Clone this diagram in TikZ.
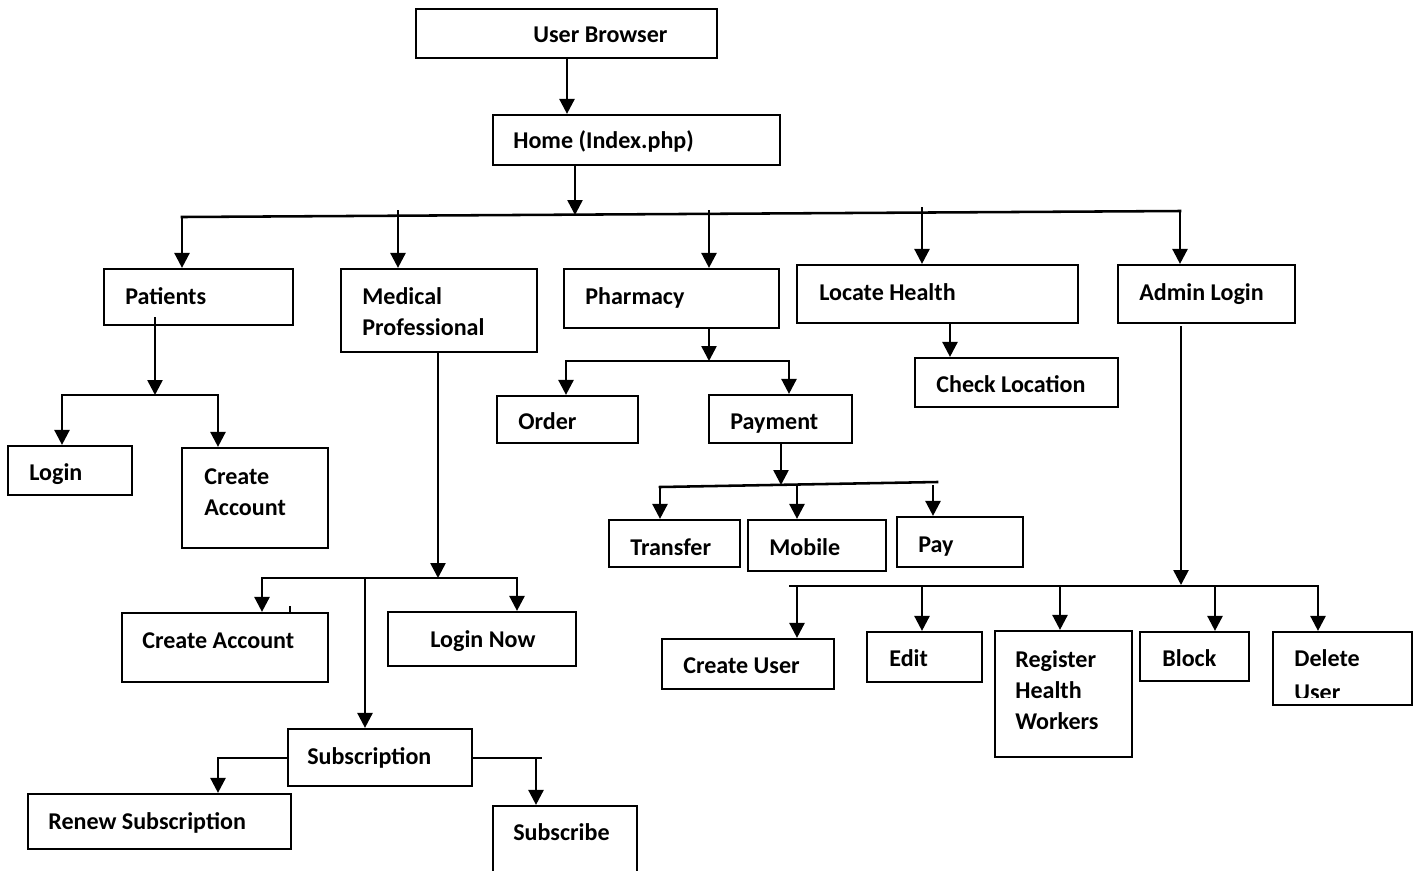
\documentclass[tikz,border=0pt]{standalone}
\usepackage{fontspec}
\setmainfont{Carlito}
\usetikzlibrary{arrows.meta,fit}
\begin{document}
\begin{tikzpicture}[x=0.02cm,y=-0.02cm,
  box/.style={draw, line width=1.25pt, inner sep=0pt},
  txt/.style={inner sep=0pt, anchor=base west, align=left,
              font=\fontsize{13.7}{17.6}\selectfont\bfseries},
  wire/.style={line width=1.45pt, line cap=rect},
  arr/.style={wire, -{Triangle[length=8.5pt,width=8.5pt]}}]
\useasboundingbox (0,0) rectangle (1416,870);
\clip (0,0) rectangle (1416,870);

% ---------- boxes ----------
\node[box, fit={(416,9) (717,58)}]      (ub)    {};
\node[box, fit={(493,115) (780,165)}]   (home)  {};
\node[box, fit={(104,269) (293,325)}]   (pat)   {};
\node[box, fit={(341,269) (537,352)}]   (med)   {};
\node[box, fit={(564,269) (779,328)}]   (pharm) {};
\node[box, fit={(797,265) (1078,323)}]  (loc)   {};
\node[box, fit={(1118,265) (1295,323)}] (adm)   {};
\node[box, fit={(8,446) (132,495)}]     (login) {};
\node[box, fit={(182,448) (328,548)}]   (caA)   {};
\node[box, fit={(122,613) (328,682)}]   (caB)   {};
\node[box, fit={(388,612) (576,666)}]   (lnow)  {};
\node[box, fit={(288,729) (472,786)}]   (sub)   {};
\node[box, fit={(28,794) (291,849)}]    (renew) {};
\node[box, fit={(493,806) (637,890)}]   (subs)  {};
\node[box, fit={(497,396) (638,443)}]   (order) {};
\node[box, fit={(709,395) (852,443)}]   (pay)   {};
\node[box, fit={(609,520) (740,567)}]   (trans) {};
\node[box, fit={(748,520) (886,571)}]   (mob)   {};
\node[box, fit={(897,517) (1023,567)}]  (payb)  {};
\node[box, fit={(915,358) (1118,407)}]  (chk)   {};
\node[box, fit={(662,639) (834,689)}]   (cuser) {};
\node[box, fit={(867,632) (982,682)}]   (edit)  {};
\node[box, fit={(995,631) (1132,757)}]  (reg)   {};
\node[box, fit={(1140,632) (1249,681)}] (block) {};
\node[box, fit={(1273,632) (1412,705)}] (del)   {};

% ---------- labels (multi-line labels sit on their last baseline) ----------
\node[txt] (t-ub)    at (533,42)  {User Browser};
\node[txt] (t-home)  at (513,148) {Home (Index.php)};
\node[txt] (t-pat)   at (125,304) {Patients};
\node[txt] (t-med)   at (362,335) {Medical\\Professional};
\node[txt] (t-pharm) at (585,304) {Pharmacy};
\node[txt] (t-loc)   at (819,300) {Locate Health};
\node[txt] (t-adm)   at (1139,300) {Admin Login};
\node[txt] (t-login) at (29,480)  {Login};
\node[txt] (t-caA)   at (204,515) {Create\\Account};
\node[txt] (t-caB)   at (142,648) {Create Account};
\node[txt] (t-lnow)  at (430,647) {Login Now};
\node[txt] (t-sub)   at (307,764) {Subscription};
\node[txt] (t-renew) at (48,829)  {Renew Subscription};
\node[txt] (t-subs)  at (513,840) {Subscribe};
\node[txt] (t-order) at (518,429) {Order};
\node[txt] (t-pay)   at (730,429) {Payment};
\node[txt] (t-trans) at (630,555) {Transfer};
\node[txt] (t-mob)   at (769,555) {Mobile};
\node[txt] (t-payb)  at (918,552) {Pay};
\node[txt] (t-chk)   at (936,392) {Check Location};
\node[txt] (t-cuser) at (683,673) {Create User};
\node[txt] (t-edit)  at (889,666) {Edit};
\node[txt] (t-reg)   at (1015,729) {Register\\Health\\Workers};
\node[txt] (t-block) at (1162,666) {Block};
\node[txt] (t-del)   at (1294,666) {Delete};
\begin{scope}
  \clip (1274,633) rectangle (1411,697);
  \node[txt] (t-delu) at (1294,700) {User};
\end{scope}

% ---------- connectors ----------
% browser -> home
\coordinate (ubo) at (567,58);
\draw[arr] (ubo) -- (home.north -| ubo);
% home -> main bus
\coordinate (hmo) at (575,165);
\coordinate (hmj) at (575,215);
\draw[arr] (hmo) -- (hmj);
\coordinate (busL) at (182,217);
\coordinate (busR) at (1180,211);
\draw[wire] (busL) -- (busR);
\coordinate (jm) at (398,211);
\coordinate (jp) at (709,211);
\coordinate (jl) at (922,208);
\draw[arr] (busL) -- (pat.north -| busL);
\draw[arr] (jm) -- (med.north -| jm);
\draw[arr] (jp) -- (pharm.north -| jp);
\draw[arr] (jl) -- (loc.north -| jl);
\draw[arr] (busR) -- (adm.north -| busR);

% patients branch
\coordinate (po) at (155,318);
\coordinate (pj) at (155,395);
\draw[arr] (po) -- (pj);
\coordinate (pl) at (62,395);
\coordinate (pr) at (218,395);
\draw[wire] (pl) -- (pr);
\draw[arr] (pl) -- (login.north -| pl);
\draw[arr] (pr) -- (caA.north -| pr);

% medical professional branch
\coordinate (mo) at (438,352);
\coordinate (mj) at (438,578);
\draw[arr] (mo) -- (mj);
\coordinate (ml) at (262,578);
\coordinate (mr) at (517,578);
\coordinate (ms) at (365,578);
\draw[wire] (ml) -- (mr);
\draw[arr] (ml) -- (caB.north -| ml);
\draw[arr] (mr) -- (lnow.north -| mr);
\draw[arr] (ms) -- (sub.north -| ms);
\coordinate (tick) at (290,606);
\draw[line width=0.8pt] (tick) -- (caB.north -| tick);

% subscription branch
\coordinate (sl) at (218,758);
\draw[wire] (sub.west |- sl) -- (sl);
\draw[arr] (sl) -- (renew.north -| sl);
\coordinate (sr) at (541,758);
\coordinate (srd) at (536,758);
\draw[wire] (sub.east |- sr) -- (sr);
\draw[arr] (srd) -- (subs.north -| srd);

% pharmacy branch
\coordinate (pho) at (709,328);
\coordinate (phj) at (709,361);
\draw[arr] (pho) -- (phj);
\coordinate (phl) at (566,361);
\coordinate (phr) at (789,361);
\draw[wire] (phl) -- (phr);
\draw[arr] (phl) -- (order.north -| phl);
\draw[arr] (phr) -- (pay.north -| phr);

% payment branch
\coordinate (pyo) at (781,443);
\coordinate (pyj) at (781,485);
\draw[arr] (pyo) -- (pyj);
\coordinate (pyl) at (660,487);
\coordinate (pyr) at (937,482);
\draw[wire] (pyl) -- (pyr);
\coordinate (pym) at (797,486);
\coordinate (pyp) at (933,486);
\draw[arr] (pyl) -- (trans.north -| pyl);
\draw[arr] (pym) -- (mob.north -| pym);
\draw[arr] (pyp) -- (payb.north -| pyp);

% locate health branch
\coordinate (lo) at (950,323);
\draw[arr] (lo) -- (chk.north -| lo);

% admin branch
\coordinate (ao) at (1181,327);
\coordinate (aj) at (1181,585);
\draw[arr] (ao) -- (aj);
\coordinate (al) at (790,586);
\coordinate (ar) at (1318,586);
\draw[wire] (al) -- (ar);
\coordinate (a1) at (797,586);
\coordinate (a2) at (922,586);
\coordinate (a3) at (1060,586);
\coordinate (a4) at (1215,586);
\draw[arr] (a1) -- (cuser.north -| a1);
\draw[arr] (a2) -- (edit.north -| a2);
\draw[arr] (a3) -- (reg.north -| a3);
\draw[arr] (a4) -- (block.north -| a4);
\draw[arr] (ar) -- (del.north -| ar);
\end{tikzpicture}
\end{document}
